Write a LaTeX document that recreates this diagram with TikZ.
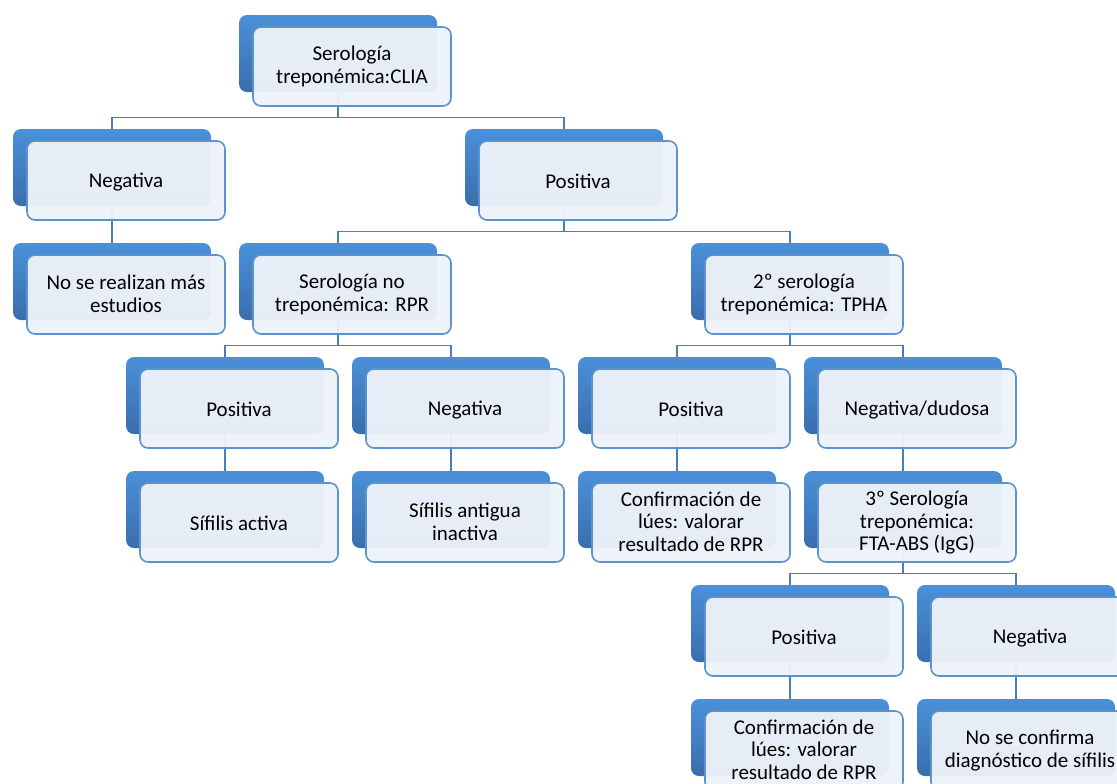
\documentclass[tikz,border=0pt]{standalone}
\usepackage{fontspec}
\setmainfont{Carlito}
\usepackage{xcolor}
\usetikzlibrary{calc}
\pgfdeclarelayer{lines}
\pgfdeclarelayer{backs}
\pgfsetlayers{lines,backs,main}
\definecolor{boxtop}{HTML}{4A90D9}
\definecolor{boxbot}{HTML}{3A6EAD}
\definecolor{frameblue}{HTML}{5B93CF}
\definecolor{paleblue}{HTML}{EDF2F9}
\definecolor{lineblue}{HTML}{4A7EBB}

\begin{document}
\begin{tikzpicture}[x=0.5pt,y=-0.5pt,
  every node/.style={font=\fontsize{10.5}{11.4}\selectfont},
  fr/.style={draw=frameblue,line width=0.8pt,rounded corners=4pt,fill=paleblue,
    fill opacity=0.96,text opacity=1,minimum width=99pt,minimum height=39.5pt,
    inner sep=0pt,align=center,
    execute at begin node=\rule{0pt}{9pt},
    execute at end node=\rule[-1pt]{0pt}{1pt}},
  bk/.style={rounded corners=4pt,top color=boxtop,bottom color=boxbot,
    minimum width=99pt,minimum height=38.5pt,inner sep=0pt},
  conn/.style={draw=lineblue,line width=0.65pt}]
 \useasboundingbox (0,0) rectangle (1117,783);
 \clip (0,0) rectangle (1117,783);
 \node[fr] (root)    at (352,66.5)  {Serología\\treponémica:CLIA};
 \node[fr] (neg1)    at (126,180.5) {Negativa};
 \node[fr] (pos1)    at (578,180.5) {Positiva};
 \node[fr] (nomas)   at (126,294.5) {No se realizan más\\estudios};
 \node[fr] (rpr)     at (352,294.5) {Serología no\\treponémica: RPR};
 \node[fr] (tpha)    at (804,294.5) {2º serología\\treponémica: TPHA};
 \node[fr] (rprpos)  at (239,408.5) {Positiva};
 \node[fr] (rprneg)  at (465,408.5) {Negativa};
 \node[fr] (tphapos) at (691,408.5) {Positiva};
 \node[fr] (tphaneg) at (917,408.5) {Negativa/dudosa};
 \node[fr] (activa)  at (239,522.5) {Sífilis activa};
 \node[fr] (antigua) at (465,522.5) {Sífilis antigua\\inactiva};
 \node[fr] (conf1)   at (691,522.5) {Confirmación de\\lúes: valorar\\resultado de RPR};
 \node[fr] (fta)     at (917,522.5) {3º Serología\\treponémica:\\FTA-ABS (IgG)};
 \node[fr] (ftapos)  at (804,636.5) {Positiva};
 \node[fr] (ftaneg)  at (1030,636.5) {Negativa};
 \node[fr] (conf2)   at (804,750.5) {Confirmación de\\lúes: valorar\\resultado de RPR};
 \node[fr] (noconf)  at (1030,750.5) {No se confirma\\diagnóstico de sífilis};
 % blue blocks behind each box
 \begin{pgfonlayer}{backs}
 \foreach \n in {root,neg1,pos1,nomas,rpr,tpha,rprpos,rprneg,tphapos,tphaneg,
     activa,antigua,conf1,fta,ftapos,ftaneg,conf2,noconf}
   \node[bk] (\n-b) at ($(\n.center)+(-14,-13)$) {};
 \end{pgfonlayer}
 % tree lines
 \begin{pgfonlayer}{lines}
 \foreach \p/\c in {root/neg1,root/pos1,neg1/nomas,pos1/rpr,pos1/tpha,rpr/rprpos,
     rpr/rprneg,tpha/tphapos,tpha/tphaneg,rprpos/activa,rprneg/antigua,
     tphapos/conf1,tphaneg/fta,fta/ftapos,fta/ftaneg,ftapos/conf2,ftaneg/noconf}
   \draw[conn] (\p-b.center) |- ($(\p-b.center |- \p.south)!.5!(\c-b.north)$)
     -| (\c-b.center);
 \end{pgfonlayer}
\end{tikzpicture}
\end{document}
